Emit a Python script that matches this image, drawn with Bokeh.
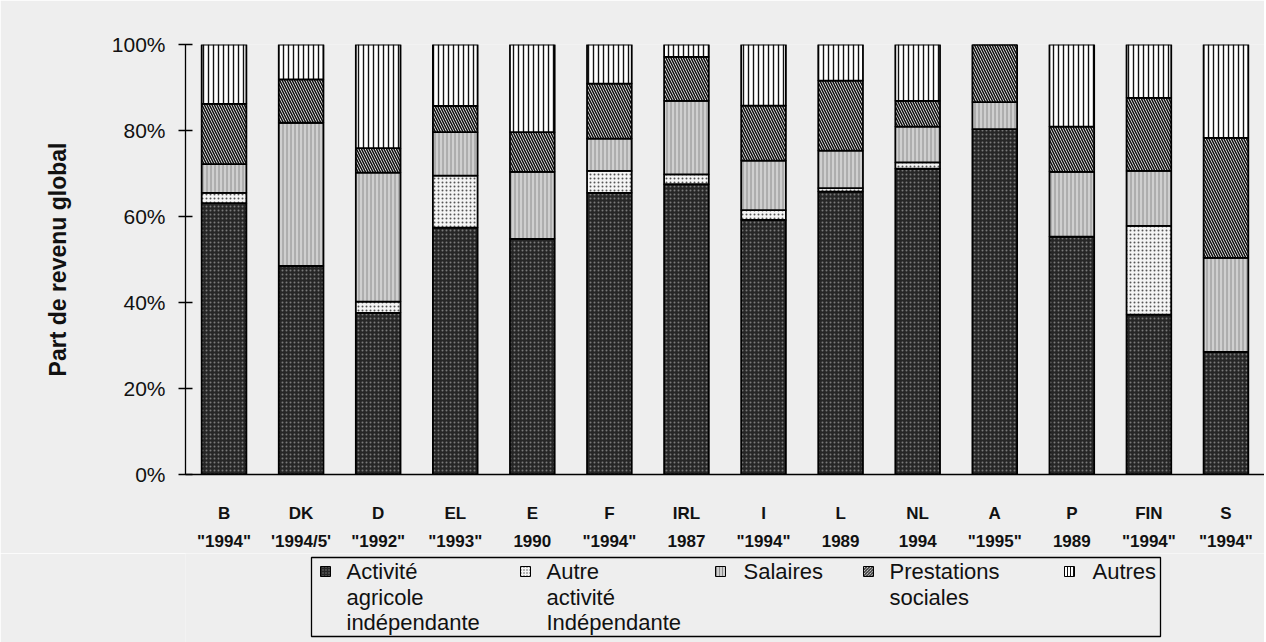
from bokeh.plotting import figure
from bokeh.layouts import column
from bokeh.models import (NumeralTickFormatter, FixedTicker, Range1d, FactorRange,
                          CategoricalAxis, CustomJSTickFormatter)
from bokeh.core.properties import value
from bokeh.embed import file_html
from bokeh.resources import INLINE

# ---------------- data ----------------
countries = ["B", "DK", "D", "EL", "E", "F", "IRL", "I", "L", "NL", "A", "P", "FIN", "S"]
years = ['"1994"', "'1994/5'", '"1992"', '"1993"', "1990", '"1994"', "1987",
         '"1994"', "1989", "1994", '"1995"', "1989", '"1994"', '"1994"']

agricole = [63.1, 48.5, 37.6, 57.4, 54.8, 65.5, 67.5, 59.2, 65.8, 71.1, 80.3, 55.3, 37.2, 28.5]
autre_act = [2.4, 0.0, 2.6, 12.1, 0.0, 5.1, 2.3, 2.3, 0.8, 1.5, 0.0, 0.0, 20.6, 0.0]
salaires = [6.7, 33.3, 30.0, 10.1, 15.6, 7.5, 17.1, 11.5, 8.7, 8.3, 6.3, 15.1, 12.8, 21.9]
prestations = [14.0, 10.1, 5.7, 6.1, 9.2, 12.8, 10.2, 12.8, 16.3, 6.0, 13.4, 10.5, 17.0, 27.9]
autres = [13.8, 8.1, 24.1, 14.3, 20.4, 9.1, 2.9, 14.2, 8.4, 13.1, 0.0, 19.1, 12.4, 21.7]

legend_lines = [["Activité", "agricole", "indépendante"],
                ["Autre", "activité", "Indépendante"],
                ["Salaires"],
                ["Prestations", "sociales"],
                ["Autres"]]
y_ticks = [0, 0.2, 0.4, 0.6, 0.8, 1.0]
y_title = "Part de revenu global"

# ---------------- styles ----------------
FONT = "Liberation Sans"
BG = "#eeeeee"
TXT = "#111111"
keys = ["agri", "autre", "sal", "prest", "autres"]
fills = ["#262626", "#f4f4f4", "#cfcfcf", "#ffffff", "#ffffff"]
hatches = ["dot", "dot", "vertical_line", "left_diagonal_line", "vertical_line"]
hatch_colors = ["#7a7a7a", "#555555", "#8c8c8c", "#111111", "#111111"]
hatch_scales = [4, 4, 4, 5, 5]
hatch_weights = [1, 1, 1, 1.6, 1.4]

data = {"country": countries}
for k, arr in zip(keys, [agricole, autre_act, salaires, prestations, autres]):
    data[k] = [v / 100.0 for v in arr]

W = 1264
LEFT = 185
MAIN_H = 553
p = figure(x_range=FactorRange(*countries, range_padding=0), y_range=Range1d(0, 1),
           width=W, height=MAIN_H, output_backend="svg", toolbar_location=None,
           min_border_left=LEFT, min_border_right=0, min_border_top=44, min_border_bottom=67,
           background_fill_color=BG, border_fill_color=BG, outline_line_color=None)

p.vbar_stack(keys, x="country", width=0.58, source=data,
             fill_color=fills, line_color="black", line_width=1.8,
             hatch_pattern=hatches, hatch_color=hatch_colors,
             hatch_scale=hatch_scales, hatch_weight=hatch_weights)

p.xgrid.grid_line_color = None
p.ygrid.grid_line_color = None

# y axis
p.yaxis.ticker = FixedTicker(ticks=y_ticks)
p.yaxis.formatter = NumeralTickFormatter(format="0%")
p.yaxis.minor_tick_line_color = None
p.yaxis.major_tick_in = 7
p.yaxis.major_tick_out = 7
p.yaxis.axis_line_color = "black"
p.yaxis.axis_line_width = 1.3
p.yaxis.major_tick_line_width = 1.3
p.yaxis.major_label_text_font = FONT
p.yaxis.major_label_text_font_size = "21px"
p.yaxis.major_label_text_color = TXT
p.yaxis.major_label_standoff = 13
p.yaxis.axis_label = y_title
p.yaxis.axis_label_text_font = FONT
p.yaxis.axis_label_text_font_size = "23px"
p.yaxis.axis_label_text_font_style = "bold"
p.yaxis.axis_label_text_color = TXT
p.yaxis.axis_label_standoff = 38

# x axis: country names
p.xaxis.major_tick_line_color = None
p.xaxis.minor_tick_line_color = None
p.xaxis.axis_line_color = "black"
p.xaxis.axis_line_width = 1.3
p.xaxis.major_label_text_font = FONT
p.xaxis.major_label_text_font_size = "17px"
p.xaxis.major_label_text_font_style = "bold"
p.xaxis.major_label_text_color = TXT
p.xaxis.major_label_standoff = 23

# second x axis: years (mapped from the country factor)
year_fmt = CustomJSTickFormatter(args=dict(cs=countries, ys=years),
                                 code="const i = cs.indexOf(tick); return i >= 0 ? ys[i] : tick;")
year_axis = CategoricalAxis(formatter=year_fmt,
                            axis_line_color=None, major_tick_line_color=None,
                            minor_tick_line_color=None,
                            major_label_text_font=FONT, major_label_text_font_size="17px",
                            major_label_text_font_style="bold",
                            major_label_text_color=TXT, major_label_standoff=0)
p.add_layout(year_axis, "below")

# ---------------- legend (separate strip, frame aligned with main plot) ----------------
LH = 89
leg = figure(x_range=Range1d(LEFT, W), y_range=Range1d(0, LH), width=W, height=LH,
             output_backend="svg", toolbar_location=None,
             min_border_left=LEFT, min_border_right=0, min_border_top=0, min_border_bottom=0,
             background_fill_color=BG, border_fill_color=BG, outline_line_color=None)
leg.axis.visible = False
leg.grid.visible = False

box_left, box_right, box_top, box_bottom = 311, 1160, 85, 6
leg.quad(left=[box_left], right=[box_right], top=[box_top], bottom=[box_bottom],
         fill_color=BG, line_color="black", line_width=1.3)

icon_x = [325, 525, 720, 868, 1069]
text_x = [346, 546, 743, 889, 1092]
line_y = [71, 45, 20]
for i, lines in enumerate(legend_lines):
    leg.rect(x=[icon_x[i]], y=[line_y[0]], width=10, height=10,
             fill_color=fills[i], line_color="black", line_width=1,
             hatch_pattern=hatches[i], hatch_color=hatch_colors[i],
             hatch_scale=3, hatch_weight=1)
    leg.text(x=[text_x[i]] * len(lines), y=line_y[:len(lines)], text=lines,
             text_font=value(FONT), text_font_size="22px", text_color=TXT,
             text_baseline="middle", text_align="left")

layout = column(p, leg, spacing=0)
open("out.html", "w").write(file_html(layout, INLINE))
